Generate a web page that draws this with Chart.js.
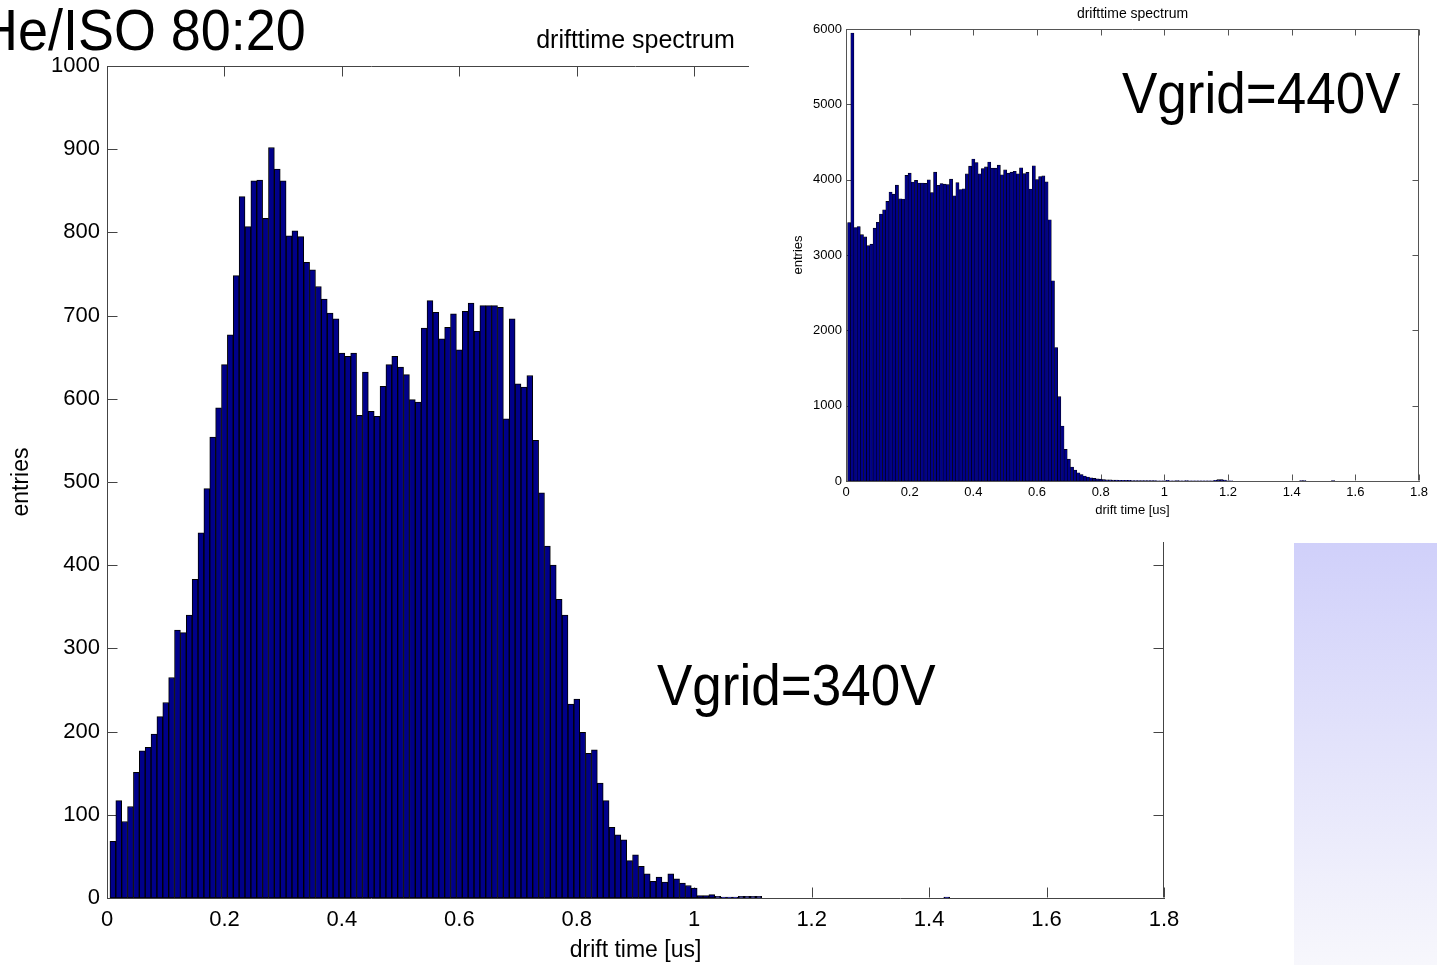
<!DOCTYPE html>
<html><head><meta charset="utf-8">
<script src="https://cdn.jsdelivr.net/npm/chart.js@4.4.1/dist/chart.umd.min.js"></script>
<style>
html,body{margin:0;padding:0;background:#fff;overflow:hidden;width:1437px;height:965px;position:relative;font-family:"Liberation Sans",Arial,sans-serif;}
#main{position:absolute;left:0;top:0;}
#inset{position:absolute;left:749px;top:0;background:#fff;}
.big{position:absolute;font-size:57px;line-height:57px;white-space:nowrap;transform:scaleX(0.93);transform-origin:0 0;color:#000;}
#grad{position:absolute;left:1294px;top:543px;width:143px;height:422px;background:linear-gradient(#d0d0fa,#f7f7fc);}
</style></head>
<body>
<canvas id="main" width="1437" height="965"></canvas>
<canvas id="inset" width="688" height="542"></canvas>
<div id="grad"></div>
<div class="big" style="left:-21px;top:1px;font-size:58px">He/ISO 80:20</div>
<div class="big" style="left:657px;top:657px">Vgrid=340V</div>
<div class="big" style="left:1122px;top:65px">Vgrid=440V</div>
<script>
// ---- data ----
const binWidth = 0.01; // histogram bin width [us]; bin k is centred at k*binWidth
const mainCounts = [
  68,117,92,110,151,177,181,197,218,235,
  265,322,319,340,383,439,492,554,589,641,
  677,748,843,807,862,863,817,902,876,862,
  796,802,795,764,755,735,720,703,696,655,
  651,655,580,632,585,579,615,641,651,638,
  629,599,596,685,718,704,672,686,702,659,
  705,715,681,712,712,712,710,576,696,618,
  614,628,550,487,423,400,359,340,233,239,
  199,174,178,138,117,85,76,70,45,52,
  38,29,20,25,19,29,23,18,15,12,
  3,3,4,2,1,1,1,2,2,2,
  2,0,0,0,0,0,0,0,0,0,
  0,0,0,0,0,0,0,0,0,0,
  0,0,0,0,0,0,0,0,0,0,
  0,0,1,0,0,0,0,0,0,0,
  0,0,0,0,0,0,0,0,0,0,
  0,0,0,0,0,0,0,0,0,0,
  0,0,0,0,0,0,0,0,0,0
];
const insetCounts = [
  3431,5947,3365,3378,3270,3240,3124,3144,3357,3434,
  3544,3600,3711,3835,3808,3927,3746,3742,4056,4087,
  3968,3990,3955,3955,3950,3998,3830,4100,3925,3948,
  3940,3935,4007,3786,3960,3870,3880,4076,4180,4273,
  4228,4076,4148,4170,4235,4153,4153,4193,4065,4130,
  4087,4100,4112,4078,4158,4080,4096,3875,4185,4002,
  4042,4050,3970,3467,2657,1771,1120,730,420,290,
  185,145,110,85,65,52,42,35,28,24,
  20,17,15,13,12,10,9,8,8,7,
  7,6,6,5,5,4,4,3,3,3,
  8,3,3,6,3,3,7,3,2,2,
  2,2,2,2,3,8,18,20,12,3,
  2,0,0,0,0,0,0,0,0,0,
  0,0,0,0,0,0,0,0,0,0,
  0,0,6,4,0,0,0,0,0,0,
  0,0,5,0,0,0,0,0,0,0,
  0,0,0,0,0,0,0,0,0,0,
  0,0,0,0,0,0,0,0,0,0
];
const xTickValues = [0,0.2,0.4,0.6,0.8,1,1.2,1.4,1.6,1.8];
const mainYTicks = [0,100,200,300,400,500,600,700,800,900,1000];
const insetYTicks = [0,1000,2000,3000,4000,5000,6000];
const titleText = 'drifttime spectrum';
const xTitleText = 'drift time [us]';
const yTitleText = 'entries';

// ---- drawing ----
const FONT = '"Liberation Sans", Arial, Helvetica, sans-serif';
function toPoints(counts){
  return counts.map((c,i)=>({x: Math.round((i+1)*binWidth*100)/100, y: c}));
}
function boxTicks(len, color){
  return {
    id:'boxTicks',
    beforeDatasetsDraw(chart){
      const {ctx, chartArea:a, scales:{x,y}} = chart;
      const L=Math.round(a.left)+0.5, R=Math.round(a.right)-0.5, T=Math.round(a.top)+0.5, B=Math.round(a.bottom)-0.5;
      ctx.save(); ctx.strokeStyle=color; ctx.lineWidth=1; ctx.beginPath();
      ctx.moveTo(L,T); ctx.lineTo(R,T); ctx.lineTo(R,B);
      x.ticks.forEach(t=>{const px=Math.round(x.getPixelForValue(t.value))+0.5;
        ctx.moveTo(px,B); ctx.lineTo(px,B-len); ctx.moveTo(px,T); ctx.lineTo(px,T+len);});
      y.ticks.forEach(t=>{const py=Math.round(y.getPixelForValue(t.value))+0.5;
        ctx.moveTo(L,py); ctx.lineTo(L+len,py); ctx.moveTo(R,py); ctx.lineTo(R-len,py);});
      ctx.stroke(); ctx.restore();
    }
  };
}
function makeChart(id, counts, o){
  return new Chart(document.getElementById(id), {
    type:'bar',
    data:{datasets:[{data:toPoints(counts), backgroundColor:'#00008a', borderColor:'#000000',
      borderWidth:o.bw, borderSkipped:false, barPercentage:1, categoryPercentage:1}]},
    options:{
      responsive:false, animation:false, devicePixelRatio:1,
      layout:{padding:{left:0,right:o.padRight,top:0,bottom:0}},
      plugins:{
        legend:{display:false}, tooltip:{enabled:false},
        title:{display:true, text:titleText, fullSize:false, color:'#000',
          font:{family:FONT,size:o.titleSize,weight:'normal'}, padding:o.titlePad}
      },
      scales:{
        x:{type:'linear', min:0, max:1.8, offset:false,
          afterBuildTicks:s=>{s.ticks = xTickValues.map(v=>({value:v}));},
          ticks:{color:'#000', font:{family:FONT,size:o.tickSize}, padding:o.xTickPad, maxRotation:0, autoSkip:false, callback:v=>String(v)},
          grid:{display:false, drawTicks:false},
          border:{display:true, color:o.axisColor, width:1},
          title:{display:true, text:xTitleText, color:'#000', font:{family:FONT,size:o.axisTitleSize}, padding:o.xTitlePad},
          afterFit:s=>{s.height=o.xHeight;}
        },
        y:{min:0, max:o.yMax,
          afterBuildTicks:s=>{s.ticks = o.yTicks.map(v=>({value:v}));},
          ticks:{color:'#000', font:{family:FONT,size:o.tickSize}, padding:o.tickPad, callback:v=>String(v)},
          grid:{display:false, drawTicks:false},
          border:{display:true, color:o.axisColor, width:1},
          title:{display:true, text:yTitleText, color:'#000', font:{family:FONT,size:o.yTitleSize}, padding:o.yTitlePad},
          afterFit:s=>{s.width=o.yWidth;}
        }
      }
    },
    plugins:[boxTicks(o.tickLen, o.axisColor)]
  });
}
makeChart('main', mainCounts, {
  bw:1, padRight:273, titleSize:25, titlePad:{top:26,bottom:10},
  tickSize:22, tickPad:7, xTickPad:9, axisColor:'#444', axisTitleSize:23, xTitlePad:{top:2,bottom:1},
  xHeight:67, yMax:1000, yTicks:mainYTicks, yTitleSize:23, yTitlePad:{top:8,bottom:0}, yWidth:107, tickLen:10
});
makeChart('inset', insetCounts, {
  bw:0.6, padRight:18, titleSize:14, titlePad:{top:6,bottom:6.2},
  tickSize:13, tickPad:4, xTickPad:4, axisColor:'#555', axisTitleSize:13, xTitlePad:{top:2,bottom:24},
  xHeight:61, yMax:6000, yTicks:insetYTicks, yTitleSize:13, yTitlePad:{top:42,bottom:0}, yWidth:97, tickLen:6
});
</script>
</body></html>
